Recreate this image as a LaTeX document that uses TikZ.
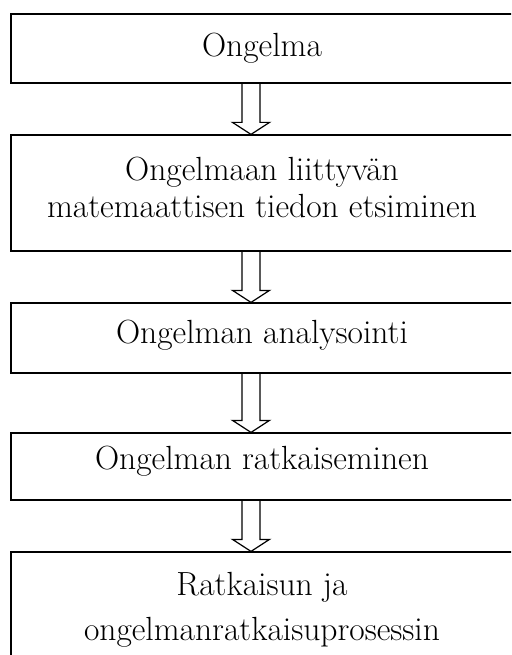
\documentclass[tikz,border=0pt]{standalone}
\usetikzlibrary{calc}
\begin{document}
\begin{tikzpicture}[x=1pt, y=-1pt, line width=1.2pt,
  step node/.style={rectangle,draw,minimum width=502pt,inner sep=0pt,align=center,font=\fontsize{33.5}{37}\selectfont},
  block arrow/.style={draw,line join=miter}]
\useasboundingbox (0,0) rectangle (511,655);
\begin{scope}
\clip (0,0) rectangle (511,655);
\node [step node,minimum height=69pt](b1) at (262,48.5) {Ongelma};
\node [step node,minimum height=116pt,text depth=12pt](b2) at (262,193) {Ongelmaan liittyvän\\matemaattisen tiedon etsiminen};
\node [step node,minimum height=70pt,text depth=12pt](b3) at (262,338) {Ongelman analysointi};
\node [step node,minimum height=67pt,text depth=18pt](b4) at (262,466.5) {Ongelman ratkaiseminen};
\node [step node,minimum height=116pt,font=\fontsize{33.5}{45}\selectfont](b5) at (262,610) {Ratkaisun ja\\ongelmanratkaisuprosessin};
% hollow arrows between the steps
\foreach \a/\b in {b1/b2,b2/b3,b3/b4,b4/b5}
  \draw[block arrow] ($(\a.south)+(-20,0)$) -- ($(\b.north)+(-20,-12)$) -- ($(\b.north)+(-29.5,-12)$)
    -- ($(\b.north)+(-11,0)$) -- ($(\b.north)+(7.5,-12)$) -- ($(\b.north)+(-2,-12)$) -- ($(\a.south)+(-2,0)$);
\end{scope}
\end{tikzpicture}
\end{document}
